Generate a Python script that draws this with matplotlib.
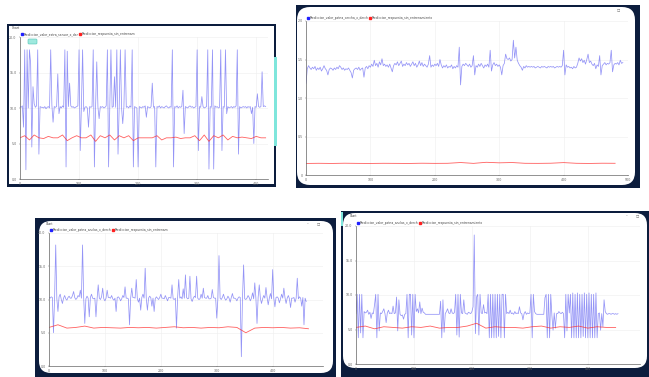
import numpy as np
import matplotlib.pyplot as plt
from matplotlib.patches import Rectangle, FancyBboxPatch
from matplotlib.lines import Line2D
from matplotlib.transforms import IdentityTransform

# ---- data ----
# panel 1 (top left), blue sampled every 2, red every 8
p1_blue = [10.2, 10.1, 10.3, 7.3, 18.2, 1.3, 18.2, 10.0, 18.2, 16.3,
           4.5, 13.0, 10.6, 10.1, 10.3, 18.2, 3.5, 10.2, 10.1, 10.1,
           10.0, 10.2, 9.9, 10.1, 10.2, 10.0, 18.2, 10.4, 8.0, 10.2,
           10.1, 10.2, 14.8, 9.2, 10.2, 10.0, 10.3, 10.1, 18.2, 1.7,
           18.0, 10.2, 13.5, 10.3, 10.1, 10.2, 10.0, 10.1, 10.2, 10.3,
           18.2, 4.0, 10.2, 18.2, 9.5, 10.1, 10.2, 10.0, 7.3, 10.2,
           10.1, 10.2, 18.2, 1.7, 10.2, 16.5, 10.1, 8.5, 10.2, 10.1,
           10.2, 10.0, 10.1, 10.3, 18.2, 1.7, 10.2, 18.2, 10.1, 10.2,
           14.4, 10.1, 18.2, 3.5, 10.2, 18.2, 10.0, 7.8, 10.2, 18.2,
           10.1, 10.2, 10.0, 10.3, 10.1, 18.2, 1.7, 10.2, 10.1, 10.0,
           1.7, 10.2, 10.1, 10.0, 10.2, 10.1, 10.3, 8.7, 10.2, 10.1,
           10.0, 10.2, 13.5, 10.1, 10.2, 1.7, 10.2, 10.1, 10.3, 10.0,
           10.2, 10.1, 10.0, 10.2, 10.3, 10.1, 10.0, 10.2, 10.1, 18.2,
           1.7, 10.2, 10.1, 10.3, 10.0, 10.2, 10.1, 10.2, 12.5, 6.4,
           10.2, 10.1, 10.0, 10.2, 10.3, 10.1, 10.2, 10.0, 10.1, 10.2,
           18.2, 4.0, 10.2, 10.1, 11.6, 10.2, 10.0, 10.1, 10.2, 18.2,
           1.4, 10.2, 10.1, 18.2, 1.4, 10.3, 10.1, 10.2, 10.0, 10.1,
           18.2, 4.0, 10.2, 10.1, 18.2, 9.2, 10.2, 10.0, 10.1, 10.2,
           10.0, 10.2, 10.1, 10.3, 18.2, 3.5, 10.2, 10.0, 10.1, 10.2,
           10.1, 10.2, 10.0, 10.2, 10.1, 10.2, 9.2, 10.1, 5.0, 10.2,
           10.1, 12.0, 10.2, 10.1, 10.2, 15.1, 10.2, 10.3, 10.2]
p1_red = [5.8, 6.1, 5.5, 6.2, 5.8, 5.7, 6.0, 5.8, 5.8, 6.2, 5.4, 5.8, 6.1, 5.8, 5.8, 6.2, 5.3, 6.1,
          5.8, 6.2, 5.5, 6.1, 5.8, 6.1, 5.4, 5.8, 5.8, 5.8, 5.8, 6.1, 5.5, 5.8, 5.8, 5.9, 5.7, 5.8,
          5.8, 6.1, 5.4, 6.2, 5.3, 6.1, 5.8, 6.2, 5.5, 6.0, 5.8, 5.9, 5.8, 5.7, 6.0, 5.8, 5.8]

# panel 2 (top right), blue every 2, red every 20
p2_blue = [1.19, 1.38, 1.42, 1.39, 1.37, 1.40, 1.38, 1.41, 1.36, 1.39,
           1.37, 1.40, 1.35, 1.38, 1.42, 1.38, 1.36, 1.30, 1.37, 1.39,
           1.38, 1.36, 1.39, 1.37, 1.40, 1.38, 1.42, 1.40, 1.37, 1.39,
           1.36, 1.38, 1.37, 1.39, 1.36, 1.33, 1.26, 1.36, 1.38, 1.39,
           1.37, 1.40, 1.36, 1.38, 1.39, 1.27, 1.39, 1.41, 1.38, 1.42,
           1.40, 1.44, 1.41, 1.49, 1.42, 1.45, 1.40, 1.47, 1.43, 1.51,
           1.42, 1.44, 1.41, 1.43, 1.40, 1.44, 1.39, 1.34, 1.42, 1.45,
           1.43, 1.47, 1.42, 1.45, 1.48, 1.41, 1.44, 1.42, 1.46, 1.43,
           1.45, 1.41, 1.44, 1.47, 1.42, 1.45, 1.40, 1.43, 1.48, 1.42,
           1.46, 1.41, 1.44, 1.42, 1.40, 1.44, 1.55, 1.40, 1.43, 1.41,
           1.44, 1.42, 1.45, 1.41, 1.50, 1.43, 1.39, 1.42, 1.40, 1.43,
           1.39, 1.41, 1.40, 1.43, 1.38, 1.41, 1.39, 1.42, 1.40, 1.66,
           1.17, 1.41, 1.44, 1.42, 1.45, 1.43, 1.41, 1.44, 1.40, 1.42,
           1.55, 1.30, 1.42, 1.40, 1.44, 1.41, 1.45, 1.42, 1.39, 1.43,
           1.41, 1.44, 1.40, 1.62, 1.35, 1.43, 1.46, 1.42, 1.44, 1.41,
           1.43, 1.40, 1.30, 1.42, 1.45, 1.57, 1.51, 1.50, 1.52, 1.48,
           1.50, 1.75, 1.52, 1.66, 1.49, 1.45, 1.42, 1.40, 1.36, 1.41,
           1.39, 1.42, 1.40, 1.41, 1.40, 1.41, 1.40, 1.41, 1.39, 1.40,
           1.41, 1.40, 1.39, 1.41, 1.40, 1.41, 1.40, 1.39, 1.41, 1.40,
           1.41, 1.40, 1.41, 1.39, 1.40, 1.41, 1.40, 1.41, 1.40, 1.42,
           1.62, 1.30, 1.43, 1.40, 1.41, 1.39, 1.40, 1.38, 1.41, 1.39,
           1.40, 1.45, 1.52, 1.48, 1.51, 1.46, 1.49, 1.44, 1.50, 1.57,
           1.46, 1.48, 1.44, 1.42, 1.45, 1.38, 1.43, 1.41, 1.55, 1.30,
           1.42, 1.44, 1.46, 1.43, 1.45, 1.44, 1.46, 1.62, 1.34, 1.43,
           1.45, 1.44, 1.46, 1.43, 1.49, 1.45, 1.46]
p2_red = [0.150, 0.152, 0.150, 0.153, 0.151, 0.150, 0.152, 0.151, 0.150, 0.153, 0.151, 0.152, 0.162,
          0.151, 0.165, 0.158, 0.162, 0.152, 0.151, 0.153, 0.161, 0.152, 0.150, 0.153, 0.152]

# panel 3 (bottom left), blue every 2, red every 16
p3_blue = [10.3, 10.2, 10.4, 10.3, 5.0, 10.2, 18.2, 10.1, 8.2, 10.4, 10.8, 10.0, 9.4, 10.2,
           10.6, 10.1, 9.9, 10.3, 10.5, 10.2, 10.2, 10.6, 11.2, 10.3, 10.0, 10.2, 10.6, 10.4,
           11.4, 10.2, 18.2, 10.3, 6.4, 10.1, 10.5, 10.2, 7.4, 10.3, 10.8, 10.2, 10.1, 10.2,
           7.4, 10.1, 12.2, 10.2, 10.0, 10.4, 11.7, 10.1, 9.8, 10.2, 11.4, 10.3, 10.3, 10.2,
           10.6, 10.1, 9.9, 10.2, 8.2, 10.3, 10.4, 10.2, 9.8, 10.1, 10.6, 10.3, 11.9, 10.2,
           10.2, 10.1, 6.2, 10.2, 11.7, 10.3, 10.3, 10.2, 13.0, 10.1, 9.6, 10.2, 8.4, 10.3,
           10.8, 10.2, 14.7, 10.1, 8.4, 10.2, 10.5, 10.3, 9.0, 10.2, 8.2, 10.1, 10.4, 10.2,
           10.0, 10.3, 10.8, 10.2, 10.2, 10.1, 10.6, 10.2, 9.8, 10.3, 10.3, 10.2, 12.2, 10.1,
           10.0, 10.2, 5.7, 10.3, 13.0, 10.2, 10.4, 10.1, 11.6, 10.2, 13.7, 10.3, 10.1, 10.2,
           13.5, 10.1, 9.7, 10.2, 10.5, 10.3, 13.5, 10.2, 10.0, 10.1, 10.8, 10.2, 11.7, 10.3,
           10.2, 10.2, 10.6, 10.1, 10.1, 10.2, 11.5, 10.3, 10.2, 10.2, 7.2, 10.1, 16.6, 10.2,
           10.0, 10.3, 10.8, 10.2, 9.9, 10.1, 10.5, 10.2, 9.6, 10.3, 10.9, 10.2, 10.2, 10.1,
           9.8, 10.2, 10.4, 10.3, 1.4, 10.2, 15.2, 10.1, 10.0, 10.2, 10.6, 10.3, 9.8, 10.2,
           11.0, 10.1, 12.5, 10.2, 6.4, 10.3, 12.2, 10.2, 9.4, 10.1, 10.6, 10.2, 11.8, 10.3,
           9.2, 10.2, 10.9, 10.1, 14.5, 10.2, 8.9, 10.3, 10.4, 10.2, 9.5, 10.1, 10.8, 10.2,
           11.7, 10.3, 9.4, 10.2, 10.6, 10.1, 8.8, 10.2, 10.2, 10.3, 9.6, 10.2, 13.2, 10.1,
           10.4, 10.2, 9.0, 10.3, 6.2, 10.2, 9.7]
p3_red = [5.8, 6.2, 5.7, 5.8, 6.0, 5.7, 5.8, 5.75, 5.7, 5.8, 5.75, 5.8, 5.7, 5.8, 5.9, 5.75, 5.8,
          5.7, 5.8, 5.75, 5.9, 5.8, 5.0, 5.7, 5.8, 5.75, 5.8, 5.7, 5.75, 5.6]

# panel 4 (bottom right), blue every 2, red every 16
p4_blue = [7.3, 10.1, 3.8, 10.1, 4.5, 10.1, 3.8, 7.6, 7.4, 7.5,
           7.8, 7.2, 7.5, 6.6, 7.4, 7.3, 8.6, 10.1, 3.8, 10.1,
           4.8, 7.4, 7.3, 7.6, 8.0, 7.3, 6.0, 7.4, 7.8, 7.3,
           7.4, 7.3, 8.4, 7.3, 7.4, 9.7, 4.8, 9.3, 7.2, 7.0,
           7.1, 6.5, 7.2, 7.3, 10.1, 3.8, 10.1, 10.1, 4.2, 10.1,
           3.8, 10.1, 7.6, 8.0, 7.4, 9.0, 7.3, 8.1, 7.5, 7.4,
           7.2, 7.2, 7.2, 7.2, 7.2, 7.2, 7.2, 7.2, 7.2, 7.2,
           7.2, 7.2, 7.2, 9.1, 3.8, 9.3, 4.6, 7.3, 7.6, 8.0,
           7.4, 7.3, 8.0, 7.4, 7.3, 7.5, 10.1, 4.2, 10.1, 3.9,
           10.1, 7.4, 7.3, 9.3, 7.4, 7.3, 7.2, 7.5, 7.4, 7.3,
           7.6, 8.3, 18.7, 4.4, 9.7, 10.1, 4.2, 10.1, 7.4, 7.3,
           8.6, 7.4, 7.5, 7.3, 10.1, 3.8, 10.1, 3.8, 10.1, 3.8,
           10.1, 3.8, 10.1, 4.0, 10.1, 3.8, 10.1, 10.1, 3.8, 10.1,
           7.3, 7.5, 7.3, 7.8, 7.3, 7.4, 7.2, 7.6, 7.3, 7.4,
           7.3, 8.3, 7.4, 7.3, 6.4, 7.3, 7.6, 7.2, 7.4, 7.3,
           7.4, 10.1, 3.8, 10.1, 7.6, 7.3, 7.2, 7.2, 7.2, 7.2,
           7.2, 7.2, 7.2, 9.6, 10.1, 3.8, 10.1, 3.8, 10.1, 7.0,
           4.9, 7.4, 5.2, 7.3, 7.3, 7.6, 7.4, 7.3, 7.5, 7.3,
           3.8, 10.1, 4.8, 10.1, 7.4, 10.1, 3.8, 10.3, 3.8, 10.1,
           3.8, 10.3, 3.8, 10.1, 3.8, 10.1, 4.0, 10.3, 3.8, 10.1,
           3.8, 10.3, 3.8, 10.1, 3.8, 10.1, 3.8, 10.3, 3.8, 7.3,
           7.4, 4.9, 7.3, 5.4, 9.3, 7.6, 7.3, 7.2, 7.3, 7.3,
           7.2, 7.3, 7.3, 7.2, 7.3, 7.2, 7.3]
p4_red = [5.3, 5.5, 5.1, 5.4, 5.3, 5.2, 5.4, 5.3, 5.5, 5.2, 5.3, 5.3, 5.5, 5.9, 5.2, 5.4, 5.3, 5.3,
          5.2, 5.4, 5.5, 5.2, 5.4, 5.3, 5.5, 5.2, 5.4, 5.3, 5.3]

ticks_a = [0, 5, 10, 15, 20]
labels_a = ["0.0", "5.0", "10.0", "15.0", "20.0"]
ticks_b = [0, 0.5, 1.0, 1.5, 2.0]
labels_b = ["0", "0.5", "1.0", "1.5", "2.0"]

legend_1 = ["Prediccion_valor_extra_sensor_x_der", "Prediccion_respuesta_sin_entrenam"]
legend_2 = ["Prediccion_valor_pxtna_cercha_x_derch", "Prediccion_respuesta_sin_entrenamiento"]
legend_3 = ["Prediccion_valor_pxtna_anclas_x_derch", "Prediccion_respuesta_sin_entrenam"]
legend_4 = ["Prediccion_valor_pxtna_anclas_x_derch", "Prediccion_respuesta_sin_entrenamiento"]

W, H = 649, 377
NAVY = '#0c1d3d'
BLUE = '#3d3df0'
RED = '#ff2a2a'
CYAN = '#7fe6dc'

fig = plt.figure(figsize=(W / 100, H / 100), dpi=100)
fig.patch.set_facecolor('white')


def rect(x0, y0, x1, y1, color, z=-2):
    # pixel coords measured from the top left of the picture
    fig.add_artist(Rectangle((x0, H - y1), x1 - x0, y1 - y0, transform=IdentityTransform(),
                             facecolor=color, edgecolor='none', zorder=z))


def panel(x0, y0, x1, y1, r):
    fig.add_artist(FancyBboxPatch((x0, H - y1), x1 - x0, y1 - y0,
                                  boxstyle=f"round,pad=0,rounding_size={r}",
                                  transform=IdentityTransform(),
                                  facecolor='white', edgecolor='none', zorder=-1))


def chart(box, blue, red, bstep, rstep, xmax, ymax, yt, yl, xt, names):
    x0, y0, x1, y1 = box
    ax = fig.add_axes([x0 / W, 1 - y1 / H, (x1 - x0) / W, (y1 - y0) / H])
    ax.set_facecolor('white')
    ax.plot(np.arange(len(blue)) * bstep, blue, color=BLUE, lw=0.55, alpha=0.55)
    ax.plot(np.arange(len(red)) * rstep, red, color=RED, lw=0.6, alpha=0.75)
    ax.set_xlim(0, xmax)
    ax.set_ylim(0, ymax)
    ax.set_yticks(yt)
    ax.set_yticklabels(yl)
    ax.set_xticks(xt)
    ax.set_xticklabels([str(t) for t in xt])
    ax.grid(color='#eeeeee', lw=0.4)
    ax.set_axisbelow(True)
    for s in ['top', 'right']:
        ax.spines[s].set_visible(False)
    for s in ['left', 'bottom']:
        ax.spines[s].set_color('#666666')
        ax.spines[s].set_linewidth(0.5)
    ax.tick_params(labelsize=2.3, length=1, width=0.3, colors='#666666', pad=1.5)
    handles = [Line2D([], [], ls='none', marker='s', ms=1.6, color='#2020ff'),
               Line2D([], [], ls='none', marker='s', ms=1.6, color='#ff2020')]
    ax.legend(handles, names, loc='lower left', bbox_to_anchor=(0, 1.0), ncol=2, frameon=False,
              fontsize=2.2, handletextpad=0.2, columnspacing=0.4, borderaxespad=0.3,
              borderpad=0, handlelength=0.6, labelcolor='#444444')
    return ax


# panel 1 - square window with thin navy border
rect(7, 24, 276, 187, NAVY)
rect(9, 26, 274, 184, 'white', z=-1)
rect(274, 57, 277, 146, CYAN, z=0)
ax1 = chart((20, 37, 268, 179), p1_blue, p1_red, 2, 8, 420, 20, ticks_a, labels_a,
            [0, 100, 200, 300, 400], legend_1)
fig.text(12 / W, 1 - 28 / H, "Chart", fontsize=2.2, color='#444444', va='center')
fig.add_artist(FancyBboxPatch((28, H - 44), 9, 5, boxstyle="round,pad=0,rounding_size=1",
                              transform=IdentityTransform(), facecolor='#9fe9de',
                              edgecolor='#4fc4b4', lw=0.4, zorder=5))

# panel 2
rect(296, 5, 640, 188, NAVY)
panel(297, 7, 635, 185, 13)
ax2 = chart((306, 21, 628, 175), p2_blue, p2_red, 2, 20, 500, 2.0, ticks_b, labels_b,
            [0, 100, 200, 300, 400, 500], legend_2)
fig.text(617 / W, 1 - 9 / H, "\u25a1", fontsize=2.5, color='#555555', va='center')

# panel 3
rect(35, 218, 336, 377, NAVY)
panel(39, 221, 333, 373, 12)
ax3 = chart((49, 233, 323, 366), p3_blue, p3_red, 2, 16, 490, 20, ticks_a, labels_a,
            [0, 100, 200, 300, 400], legend_3)
fig.text(46 / W, 1 - 224 / H, "Chart", fontsize=2.0, color='#444444', va='center')
fig.text(307 / W, 1 - 223 / H, "\u2013", fontsize=2.5, color='#555555', va='center')
fig.text(317 / W, 1 - 223 / H, "\u25a1", fontsize=2.5, color='#555555', va='center')

# panel 4
rect(341, 211, 649, 377, NAVY)
panel(343, 213, 647, 368, 12)
rect(341, 212, 343, 226, CYAN, z=0)
ax4 = chart((356, 226, 640, 364), p4_blue, p4_red, 2, 16, 490, 20, ticks_a, labels_a,
            [0, 100, 200, 300, 400], legend_4)
fig.text(350 / W, 1 - 216 / H, "Chart", fontsize=2.0, color='#444444', va='center')
fig.text(626 / W, 1 - 215 / H, "\u2013", fontsize=2.5, color='#555555', va='center')
fig.text(636 / W, 1 - 215 / H, "\u25a1", fontsize=2.5, color='#555555', va='center')

fig.savefig("out.png", dpi=100, facecolor='white')
